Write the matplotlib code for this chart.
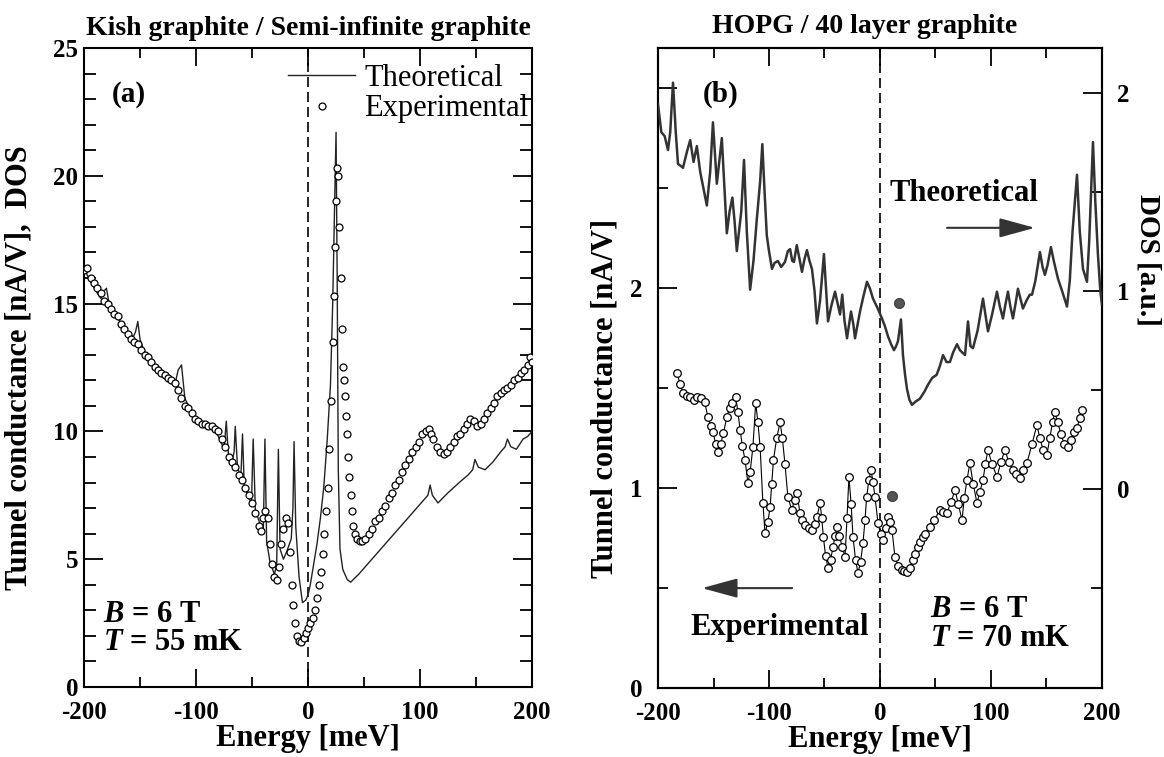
import matplotlib
matplotlib.use("Agg")
import matplotlib.pyplot as plt
from matplotlib.lines import Line2D
from matplotlib.ticker import MultipleLocator, FixedLocator, FixedFormatter

plt.rcParams['font.family'] = ['Liberation Serif', 'DejaVu Serif']
plt.rcParams['axes.unicode_minus'] = False
plt.rcParams['mathtext.fontset'] = 'custom'
plt.rcParams['mathtext.rm'] = 'Liberation Serif:bold'
plt.rcParams['mathtext.it'] = 'Liberation Serif:italic:bold'
plt.rcParams['mathtext.bf'] = 'Liberation Serif:bold'

# ---- panel (a): Kish graphite, experimental tunnel conductance ----
a_exp_E = [-200, -197, -194, -191, -188, -185, -182, -179, -176, -173,
           -170, -167, -164, -161, -158, -155, -152, -149, -146, -143,
           -140, -137, -134, -131, -128, -125, -122, -119, -116, -113,
           -110, -107, -104, -101, -98, -95, -92, -89, -86, -83,
           -80, -77, -74, -71, -68, -65, -62, -59, -56, -53,
           -50, -47, -44, -42, -40, -38, -36, -34, -32, -30,
           -28, -26, -24, -22, -20, -18, -16, -14.5, -13, -11.5,
           -10, -8, -6, -4, -2, 0, 2, 4, 6, 8,
           10, 11.5, 13, 14.5, 16, 17.5, 19, 20.5, 22, 23,
           24, 25, 26, 27, 28, 29, 30, 31, 32, 33,
           34, 35, 36, 37, 38, 39, 40.5, 42, 44, 46,
           48, 51, 54, 57, 60, 63, 66, 69, 72, 75,
           78, 81, 84, 87, 90, 93, 96, 99, 102, 105,
           108, 110, 112, 115, 118, 121, 124, 127, 130, 133,
           136, 139, 142, 145, 148, 151, 154, 157, 160, 163,
           166, 169, 172, 175, 178, 181, 184, 187, 190, 193,
           196, 198, 200]
a_exp_G = [16.3, 16.4, 16.0, 15.8, 15.6, 15.4, 15.1, 15.0, 14.8, 14.6,
           14.5, 14.2, 14.0, 13.8, 13.6, 13.5, 13.4, 13.2, 13.0, 12.9,
           12.7, 12.5, 12.4, 12.3, 12.2, 12.1, 12.0, 11.9, 11.6, 11.3,
           11.0, 10.9, 10.7, 10.5, 10.4, 10.3, 10.3, 10.2, 10.2, 10.1,
           10.0, 9.7, 9.4, 9.0, 8.8, 8.6, 8.3, 8.1, 7.8, 7.5,
           7.2, 6.8, 6.3, 6.1, 6.6, 6.9, 6.6, 5.6, 4.8, 4.3,
           4.2, 4.7, 5.6, 6.2, 6.6, 6.4, 5.3, 4.0, 3.2, 2.5,
           2.0, 1.8, 1.75, 1.9, 2.1, 2.3, 2.5, 2.7, 3.0, 3.5,
           4.0, 4.5, 5.2, 6.0, 6.9, 7.8, 9.3, 11.2, 13.5, 15.3,
           17.2, 19.0, 20.3, 20.0, 18.0, 16.0, 14.0, 12.5, 12.0, 11.4,
           10.6, 9.9, 9.0, 8.2, 7.5, 6.9, 6.3, 6.0, 5.8, 5.7,
           5.7, 5.8, 6.0, 6.2, 6.5, 6.6, 6.9, 7.1, 7.4, 7.6,
           7.9, 8.1, 8.4, 8.7, 8.9, 9.2, 9.4, 9.6, 9.9, 10.0,
           10.1, 9.9, 9.7, 9.4, 9.2, 9.1, 9.2, 9.4, 9.6, 9.8,
           9.9, 10.1, 10.3, 10.5, 10.4, 10.2, 10.3, 10.5, 10.7, 10.9,
           11.1, 11.4, 11.5, 11.6, 11.7, 11.8, 12.0, 12.1, 12.3, 12.4,
           12.6, 12.9, 12.7]

# panel (a): semi-infinite graphite, theoretical DOS
a_th_E = [-200, -196, -192, -188, -185, -182, -180, -178, -176, -172,
          -168, -164, -160, -156, -154, -152, -150, -147, -143, -139,
          -135, -131, -127, -123, -119, -116, -113, -110, -106, -102,
          -98, -94, -90, -86, -83, -80, -77, -75, -73, -71,
          -68, -66, -65, -63, -60, -58.5, -57, -53, -50.5, -49,
          -47, -43, -40, -38.5, -37, -34, -30, -28, -26.5, -25,
          -22, -19, -15, -13.5, -12.5, -11, -8, -5, -2, 0,
          2, 5, 8, 11, 14, 17, 20, 22, 24, 25,
          26, 27, 28.5, 31, 35, 38, 45, 55, 65, 75,
          85, 95, 103, 107, 109, 111, 116, 125, 135, 143,
          147, 149, 152, 158, 165, 172, 176, 178, 181, 186,
          192, 196, 200]
a_th_D = [16.4, 16.0, 15.7, 15.4, 15.2, 15.5, 15.6, 15.1, 14.9, 14.6,
          14.3, 14.0, 13.8, 13.7, 13.9, 14.3, 13.6, 13.2, 12.9, 12.6,
          12.4, 12.2, 12.1, 11.9, 11.8, 12.4, 12.6, 11.3, 10.9, 10.6,
          10.4, 10.3, 10.3, 10.2, 10.0, 9.8, 9.5, 9.3, 10.4, 9.0,
          8.8, 9.2, 10.2, 8.6, 8.2, 9.9, 7.9, 7.4, 7.2, 9.7,
          6.9, 6.4, 6.0, 9.7, 5.7, 4.9, 4.4, 4.8, 9.3, 5.4,
          5.0, 5.3, 5.8, 7.0, 9.6, 6.3, 4.3, 3.3, 3.4, 3.6,
          4.0, 4.8, 5.6, 6.6, 7.8, 9.6, 11.8, 15.0, 19.5, 21.7,
          16.0, 8.5, 5.4, 4.6, 4.2, 4.1, 4.4, 4.9, 5.4, 5.9,
          6.4, 6.9, 7.3, 7.5, 7.9, 7.5, 7.2, 7.6, 8.0, 8.3,
          8.5, 8.9, 8.6, 8.5, 8.8, 9.2, 9.4, 9.7, 9.4, 9.3,
          9.7, 9.8, 10.0]

# ---- panel (b): HOPG, experimental tunnel conductance (left axis) ----
b_exp_E = [-183, -180, -177.5, -174, -171, -168, -165, -161, -158, -155,
           -152.5, -150.5, -148, -146, -143.5, -141, -138, -135.5, -133, -130,
           -128, -126, -124, -121.6, -119, -117, -114.5, -112, -110, -108,
           -105.5, -103.6, -101, -99, -97.5, -96, -93, -90, -88, -85.6,
           -83, -79.5, -77, -75, -72, -70, -67.5, -64, -61, -59,
           -56.8, -54, -52.5, -51, -49, -46.8, -44.5, -42.3, -40.5, -38.7,
           -36.5, -34, -31.5, -29.7, -28, -26, -24.3, -22, -19.8, -17.5,
           -15.3, -13.5, -12, -10, -8.1, -6.3, -4.5, -1.8, 0.5, 2.7,
           5, 7.2, 9, 10.8, 13.5, 16.5, 19.8, 22, 24.3, 27,
           29.7, 32, 34.2, 36.5, 38.7, 41, 45, 49, 54, 57,
           60.3, 64, 67.6, 70.5, 73.9, 76, 78.4, 81, 84, 87.4,
           90, 92.8, 95, 97.3, 101, 105.4, 109, 112.6, 116, 119.8,
           123, 126, 129, 132.4, 137, 141.4, 144, 147, 150.4, 153,
           155.5, 157.6, 160, 163, 166, 169.4, 172, 175, 177.5, 180,
           182]
b_exp_G = [1.575, 1.52, 1.475, 1.46, 1.455, 1.44, 1.455, 1.45, 1.43, 1.355,
           1.31, 1.28, 1.22, 1.18, 1.22, 1.275, 1.355, 1.40, 1.425, 1.455,
           1.38, 1.29, 1.21, 1.14, 1.025, 1.08, 1.205, 1.425, 1.33, 1.205,
           0.925, 0.775, 0.83, 0.905, 1.02, 1.14, 1.25, 1.33, 1.25, 1.12,
           0.955, 0.89, 0.94, 0.975, 0.875, 0.84, 0.815, 0.80, 0.79, 0.82,
           0.855, 0.925, 0.85, 0.755, 0.66, 0.60, 0.64, 0.705, 0.76, 0.805,
           0.76, 0.705, 0.655, 0.85, 1.055, 0.92, 0.755, 0.64, 0.575, 0.63,
           0.725, 0.84, 0.955, 1.04, 1.09, 1.03, 0.955, 0.825, 0.77, 0.74,
           0.80, 0.855, 0.83, 0.79, 0.655, 0.61, 0.59, 0.585, 0.58, 0.60,
           0.64, 0.67, 0.705, 0.73, 0.755, 0.77, 0.805, 0.84, 0.89, 0.88,
           0.875, 0.93, 0.99, 0.92, 0.84, 0.95, 1.04, 1.125, 1.02, 0.925,
           0.98, 1.04, 1.12, 1.19, 1.12, 1.055, 1.13, 1.19, 1.13, 1.09,
           1.07, 1.05, 1.09, 1.125, 1.22, 1.315, 1.25, 1.19, 1.165, 1.25,
           1.33, 1.38, 1.33, 1.27, 1.22, 1.205, 1.24, 1.28, 1.30, 1.35,
           1.39]

# panel (b): 40 layer graphite, theoretical DOS (right axis)
b_th_E = [-200, -197, -194, -191, -189, -186.5, -184, -182, -179.5, -177.5,
          -174, -171, -168, -165, -162, -159.5, -156, -153, -150.5, -147,
          -142.5, -140, -138, -135.5, -133, -131, -129, -125, -122.5, -120,
          -117, -114, -111, -108, -106, -104, -102, -100, -97.3, -95,
          -92, -89, -85.6, -83, -81, -79, -77.5, -75, -72.5, -70.3,
          -68, -65.8, -63.5, -61.3, -59, -56.8, -54, -50.5, -48.5, -46.8,
          -44, -40.5, -38, -36, -34, -32, -29.7, -26.1, -24, -22.5,
          -18, -15, -11.7, -9, -6.3, -2, 1.8, 4.5, 7.2, 10,
          12.6, 14.5, 16.2, 18.9, 20.7, 22.5, 24.3, 26.5, 28.8, 32,
          36, 40, 43.2, 47, 51, 54, 56.8, 60, 63, 66,
          69.4, 72, 76.6, 79.3, 81.5, 83.8, 88, 92.8, 95, 97.3,
          101, 105.4, 108, 110.8, 113, 115.3, 117.5, 119.8, 122, 124.3,
          126.5, 128.8, 132, 135, 137, 140, 144.1, 146.5, 148.6, 151,
          154, 157, 160.4, 164, 168.5, 171, 173.5, 177.5, 180, 182.9,
          186.5, 188.5, 191.9, 194, 196.4, 198.5, 200]
b_th_D = [1.94, 1.80, 1.78, 1.71, 1.80, 2.05, 1.80, 1.64, 1.63, 1.62,
          1.70, 1.76, 1.65, 1.73, 1.60, 1.53, 1.43, 1.60, 1.85, 1.54,
          1.77, 1.50, 1.29, 1.40, 1.47, 1.35, 1.20, 1.40, 1.66, 1.30,
          1.005, 1.15, 1.36, 1.55, 1.74, 1.50, 1.28, 1.20, 1.11, 1.14,
          1.15, 1.12, 1.145, 1.20, 1.21, 1.15, 1.145, 1.23, 1.16, 1.095,
          1.16, 1.205, 1.15, 1.11, 1.00, 0.835, 0.95, 1.185, 1.00, 0.845,
          0.92, 0.995, 0.93, 0.88, 0.98, 0.85, 0.76, 0.895, 0.83, 0.76,
          0.895, 0.97, 1.045, 1.01, 0.96, 0.91, 0.86, 0.82, 0.77, 0.73,
          0.70, 0.72, 0.745, 0.855, 0.675, 0.58, 0.505, 0.45, 0.424, 0.44,
          0.455, 0.49, 0.525, 0.56, 0.575, 0.62, 0.675, 0.64, 0.64, 0.69,
          0.73, 0.70, 0.675, 0.845, 0.72, 0.71, 0.80, 0.96, 0.88, 0.795,
          0.88, 0.995, 0.92, 0.86, 0.93, 0.995, 0.92, 0.86, 0.93, 1.01,
          0.96, 0.91, 0.95, 0.98, 0.98, 1.05, 1.195, 1.12, 1.08, 1.13,
          1.22, 1.14, 1.06, 1.00, 0.92, 1.05, 1.30, 1.585, 1.30, 1.11,
          1.045, 1.25, 1.75, 1.45, 1.18, 1.00, 0.93]

# the two filled markers in (b), left-axis units
b_dot_E = [17, 11]
b_dot_G = [1.925, 0.96]

BOLD = dict(fontweight='bold')


def style_x(ax):
    ax.set_xlim(-200, 200)
    ax.xaxis.set_major_locator(MultipleLocator(100))
    ax.xaxis.set_minor_locator(MultipleLocator(50))
    ax.tick_params(axis='x', which='both', direction='in', top=True,
                   labelsize=18, pad=10, width=1.3)
    ax.tick_params(axis='x', which='major', length=13)
    ax.tick_params(axis='x', which='minor', length=7)
    for lab in ax.get_xticklabels():
        lab.set_fontweight('bold')
    ax.set_xlabel('Energy [meV]', fontsize=22, **BOLD)
    ax.xaxis.set_label_coords(0.5, -0.058)
    for s in ax.spines.values():
        s.set_linewidth(1.5)
    ax.axvline(0, color='black', lw=1.2, ls=(0, (6, 3)), zorder=1)


fig = plt.figure(figsize=(11.64, 7.57), dpi=100)

# ---------------- panel (a) ----------------
ax = fig.add_axes([0.0722, 0.0925, 0.3849, 0.8441])
style_x(ax)
ax.set_ylim(0, 25)
ax.yaxis.set_major_locator(MultipleLocator(5))
ax.yaxis.set_minor_locator(MultipleLocator(1))
ax.tick_params(axis='y', which='both', direction='in', right=True,
               labelsize=18, pad=4, width=1.3)
ax.tick_params(axis='y', which='major', length=14)
ax.tick_params(axis='y', which='minor', length=8.5)
for lab in ax.get_yticklabels():
    lab.set_fontweight('bold')

ax.plot(a_th_E, a_th_D, color='#222222', lw=1.0, zorder=3)
ax.plot(a_exp_E, a_exp_G, ls='none', marker='o', ms=5, mfc='white',
        mec='black', mew=0.9, zorder=4)

ax.set_ylabel('Tunnel conductance [nA/V],  DOS', fontsize=22, **BOLD)
ax.yaxis.set_label_coords(-0.114, 0.5)
ax.text(0.5, 1.020, 'Kish graphite / Semi-infinite graphite', fontsize=20,
        ha='center', va='baseline', transform=ax.transAxes, **BOLD)
ax.text(0.0625, 0.928, '(a)', fontsize=21, ha='left', va='center',
        transform=ax.transAxes, **BOLD)
ax.text(0.042, 0.114, r'$B$ = 6 T', fontsize=22, ha='left', va='center',
        transform=ax.transAxes, **BOLD)
ax.text(0.042, 0.069, r'$T$ = 55 mK', fontsize=22, ha='left', va='center',
        transform=ax.transAxes, **BOLD)

handles = [Line2D([], [], color='#222222', lw=1.0),
           Line2D([], [], ls='none', marker='o', ms=5, mfc='white',
                  mec='black', mew=0.9)]
ax.legend(handles, ['Theoretical', 'Experimental'], loc='upper left',
          bbox_to_anchor=(0.455, 0.975), frameon=False, fontsize=22,
          handlelength=2.2, handletextpad=0.3, labelspacing=0.05,
          borderpad=0, borderaxespad=0)

# ---------------- panel (b) ----------------
bx = fig.add_axes([0.5653, 0.0912, 0.3814, 0.8454])
style_x(bx)
bx.set_ylim(0, 3.2)
bx.yaxis.set_major_locator(FixedLocator([0, 1, 2, 3]))
bx.yaxis.set_major_formatter(FixedFormatter(['0', '1', '2', '']))
bx.yaxis.set_minor_locator(FixedLocator([0.5, 1.5, 2.5]))
bx.tick_params(axis='y', which='both', direction='in', right=False,
               labelsize=18, pad=11, width=1.3)
bx.tick_params(axis='y', which='major', length=14)
bx.tick_params(axis='y', which='minor', length=7)
for lab in bx.get_yticklabels():
    lab.set_fontweight('bold')

bx.plot(b_exp_E, b_exp_G, color='black', lw=0.8, marker='o', ms=5.5,
        mfc='white', mec='black', mew=0.9, zorder=4)
bx.plot(b_dot_E, b_dot_G, ls='none', marker='o', ms=7, mfc='#555555',
        mec='#444444', zorder=5)
bx.set_ylabel('Tunnel conductance [nA/V]', fontsize=22, **BOLD)
bx.yaxis.set_label_coords(-0.086, 0.453)

cx = bx.twinx()
cx.set_ylim(-1.005, 2.225)
cx.yaxis.set_major_locator(FixedLocator([0, 1, 2]))
cx.yaxis.set_minor_locator(FixedLocator([-0.5, 0.5, 1.5]))
cx.tick_params(axis='y', which='both', direction='in', labelsize=18,
               pad=11, width=1.3)
cx.tick_params(axis='y', which='major', length=14)
cx.tick_params(axis='y', which='minor', length=8)
for lab in cx.get_yticklabels():
    lab.set_fontweight('bold')
for s in cx.spines.values():
    s.set_linewidth(1.5)
cx.plot(b_th_E, b_th_D, color='#333333', lw=1.8, zorder=3)
cx.set_ylabel('DOS [a.u.]', fontsize=21, rotation=270, va='bottom', **BOLD)
cx.yaxis.set_label_coords(1.074, 0.669)

bx.text(0.466, 1.023, 'HOPG / 40 layer graphite', fontsize=20,
        ha='center', va='baseline', transform=bx.transAxes, **BOLD)
bx.text(0.101, 0.928, '(b)', fontsize=21, ha='left', va='center',
        transform=bx.transAxes, **BOLD)
bx.text(0.5225, 0.773, 'Theoretical', fontsize=22, ha='left', va='center',
        transform=bx.transAxes, **BOLD)
bx.text(0.072, 0.095, 'Experimental', fontsize=22, ha='left', va='center',
        transform=bx.transAxes, **BOLD)
bx.text(0.613, 0.122, r'$B$ = 6 T', fontsize=22, ha='left', va='center',
        transform=bx.transAxes, **BOLD)
bx.text(0.613, 0.078, r'$T$ = 70 mK', fontsize=22, ha='left', va='center',
        transform=bx.transAxes, **BOLD)

arrow = dict(arrowstyle='-|>,head_length=1.1,head_width=0.3',
             mutation_scale=20, lw=1.5, color='#333333', shrinkA=0, shrinkB=0)
bx.annotate('', xy=(0.849, 0.719), xytext=(0.651, 0.719),
            xycoords='axes fraction', arrowprops=arrow)
bx.annotate('', xy=(0.099, 0.156), xytext=(0.302, 0.156),
            xycoords='axes fraction', arrowprops=arrow)

fig.savefig('out.png', dpi=100)
